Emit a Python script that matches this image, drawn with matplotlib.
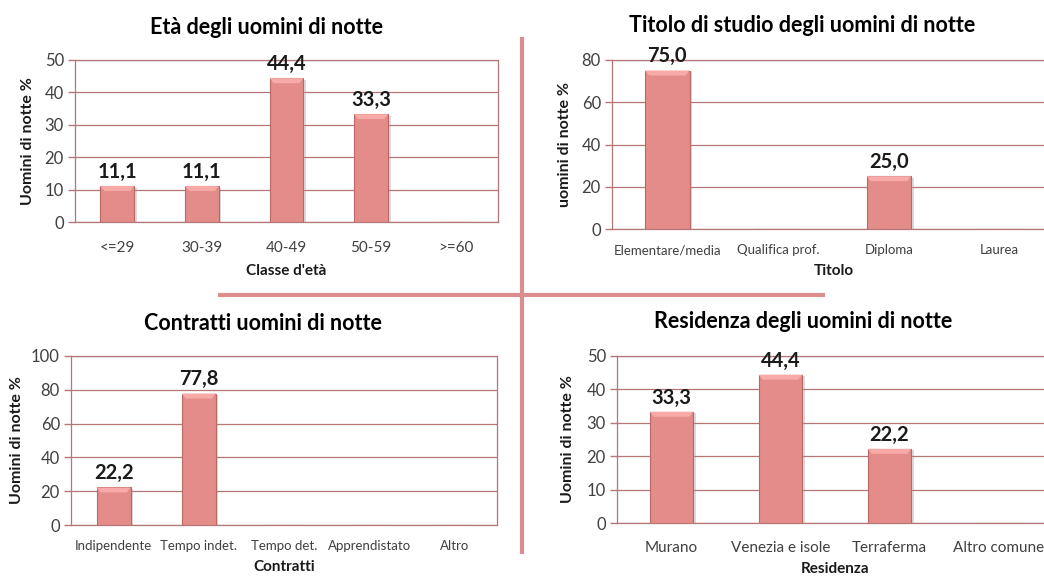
import matplotlib
matplotlib.use("Agg")
import matplotlib.pyplot as plt
from matplotlib.patches import Polygon, Rectangle

plt.rcParams["font.family"] = ["Lato", "DejaVu Sans"]

# ---- data -------------------------------------------------------------
eta_categories = ["<=29", "30-39", "40-49", "50-59", ">=60"]
eta_values = [11.1, 11.1, 44.4, 33.3, 0.0]

titolo_categories = ["Elementare/media", "Qualifica prof.", "Diploma", "Laurea"]
titolo_values = [75.0, 0.0, 25.0, 0.0]

contratti_categories = ["Indipendente", "Tempo indet.", "Tempo det.", "Apprendistato", "Altro"]
contratti_values = [22.2, 77.8, 0.0, 0.0, 0.0]

residenza_categories = ["Murano", "Venezia e isole", "Terraferma", "Altro comune"]
residenza_values = [33.3, 44.4, 22.2, 0.0]

# ---- style --------------------------------------------------------------
W, H = 1044, 576
BAR = "#e38c8a"
BAR_TOP = "#f7aaa8"
BAR_EDGE = "#b86866"
GRID = "#b57676"
DIVIDER = "#dc8d8f"
TICK_TXT = "#404040"

fig = plt.figure(figsize=(W / 100, H / 100), dpi=100)


def px_axes(x0, y0, x1, y1):
    """Axes from pixel box (left, top, right, bottom), origin at top-left."""
    return fig.add_axes([x0 / W, 1 - y1 / H, (x1 - x0) / W, (y1 - y0) / H])


def bar_chart(box, cats, vals, ymax, ystep, title, title_xy, xlabel, xlabel_y,
              ylabel, ylabel_x, xtick_size, xtick_pad):
    x0, y0, x1, y1 = box
    ax = px_axes(*box)
    n = len(cats)
    pos = list(range(n))
    bars = ax.bar(pos, vals, width=0.4, color=BAR, edgecolor=BAR_EDGE,
                  linewidth=0.8, zorder=3)
    ax.set_xlim(-0.5, n - 0.5)
    ax.set_ylim(0, ymax)
    ax.set_yticks(range(0, ymax + 1, ystep))
    ax.set_xticks(pos)
    ax.set_xticklabels(cats, fontsize=xtick_size, color=TICK_TXT)
    ax.tick_params(axis="x", length=0, pad=xtick_pad)
    ax.tick_params(axis="y", length=5, width=1, color=GRID, labelsize=12,
                   labelcolor=TICK_TXT, pad=3)
    ax.grid(axis="y", color=GRID, linewidth=0.9, zorder=0)
    for s in ax.spines.values():
        s.set_color(GRID)
        s.set_linewidth(0.9)

    # bevel: lighter cap on top of every bar, sized in pixels
    px_y = ymax / (y1 - y0)
    px_x = n / (x1 - x0)
    for b, v in zip(bars, vals):
        if v <= 0:
            continue
        bx, bw = b.get_x(), b.get_width()
        cap = 5 * px_y
        inset = 4 * px_x
        ax.add_patch(Polygon([(bx, v), (bx + bw, v), (bx + bw - inset, v - cap),
                              (bx + inset, v - cap)], closed=True,
                             facecolor=BAR_TOP, edgecolor="none", zorder=4))
        ax.add_patch(Rectangle((bx + bw, 0), 2.5 * px_x, v - 1.5 * px_y,
                               facecolor="#9a9a9a", alpha=0.35,
                               edgecolor="none", zorder=2))
        ax.annotate(f"{v:.1f}".replace(".", ","), (b.get_x() + bw / 2, v),
                    xytext=(0, 3), textcoords="offset points", ha="center",
                    va="bottom", fontsize=14.5, fontweight="bold", color="#1a1a1a",
                    zorder=5)

    fig.text(title_xy[0] / W, 1 - title_xy[1] / H, title, ha="center",
             va="center", fontsize=15.5, fontweight="bold", color="black")
    ax.set_xlabel(xlabel, fontsize=11, fontweight="bold", color="#1a1a1a")
    ax.xaxis.set_label_coords(((x0 + x1) / 2) / W, 1 - xlabel_y / H,
                              transform=fig.transFigure)
    ax.xaxis.label.set_va("center")
    ax.set_ylabel(ylabel, fontsize=11.5, fontweight="bold", color="#1a1a1a")
    ax.yaxis.set_label_coords(ylabel_x / W, 1 - ((y0 + y1) / 2) / H,
                              transform=fig.transFigure)
    ax.yaxis.label.set_va("center")
    return ax


bar_chart((75, 60, 498, 222), eta_categories, eta_values, 50, 10,
          "Età degli uomini di notte", (267, 28), "Classe d'età", 271,
          "Uomini di notte %", 28, 11, 14)

bar_chart((612, 60, 1055, 229), titolo_categories, titolo_values, 80, 20,
          "Titolo di studio degli uomini di notte", (802, 25), "Titolo", 271,
          "uomini di notte %", 565, 9.5, 11)

bar_chart((71, 356, 497, 525), contratti_categories, contratti_values, 100, 20,
          "Contratti uomini di notte", (263, 323), "Contratti", 567,
          "Uomini di notte %", 17, 9.5, 11)

bar_chart((617, 356, 1053, 523), residenza_categories, residenza_values, 50, 10,
          "Residenza degli uomini di notte", (803, 322), "Residenza", 569,
          "Uomini di notte %", 568, 11, 13)

# divider cross between the four panels
fig.add_artist(plt.Line2D([522 / W, 522 / W], [1 - 39 / H, 1 - 552 / H],
                          transform=fig.transFigure, color=DIVIDER, linewidth=3))
fig.add_artist(plt.Line2D([220 / W, 823 / W], [1 - 295 / H, 1 - 295 / H],
                          transform=fig.transFigure, color=DIVIDER, linewidth=3))

fig.savefig("out.png", dpi=100, facecolor="white")
